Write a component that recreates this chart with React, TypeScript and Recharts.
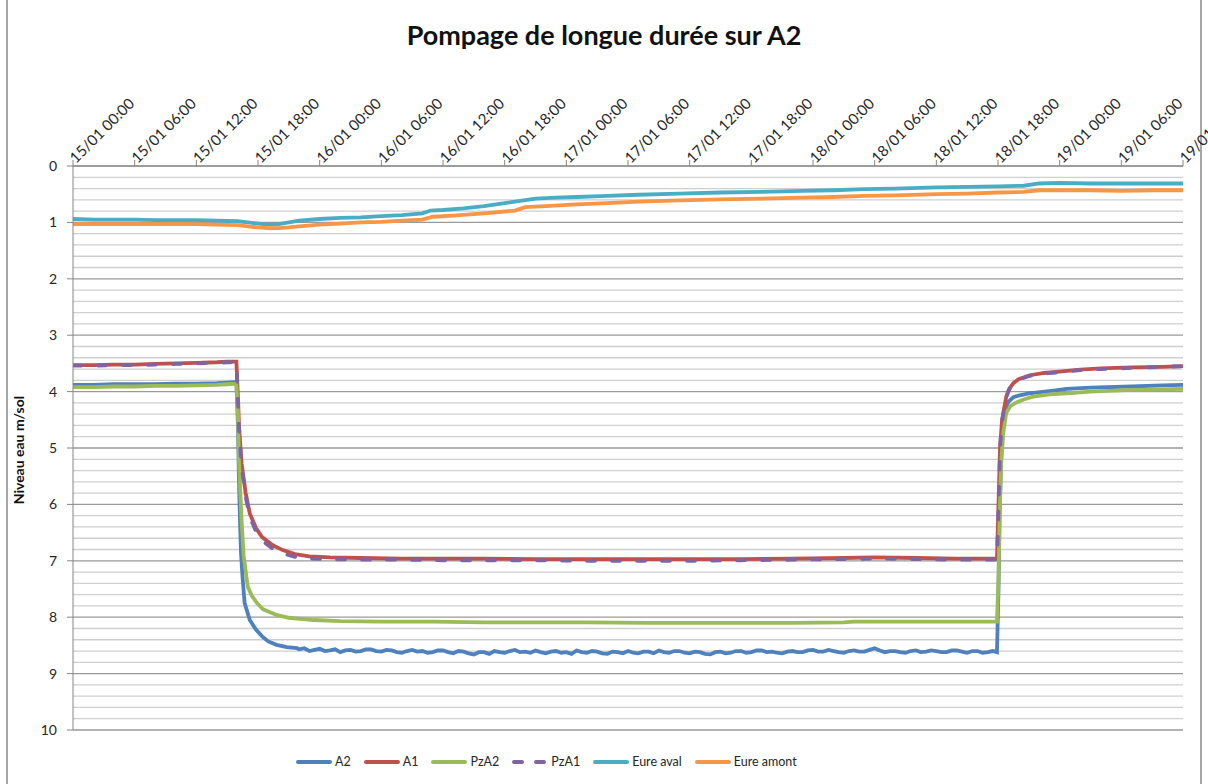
import React from "react";
import { LineChart, Line, XAxis, YAxis, CartesianGrid, ReferenceLine } from "recharts";

type Pt = [number, number];

// hours since 15/01 00:00
const X_TICKS = [0, 6, 12, 18, 24, 30, 36, 42, 48, 54, 60, 66, 72, 78, 84, 90, 96, 102, 108];
const X_LABELS = [
  "15/01 00:00", "15/01 06:00", "15/01 12:00", "15/01 18:00",
  "16/01 00:00", "16/01 06:00", "16/01 12:00", "16/01 18:00",
  "17/01 00:00", "17/01 06:00", "17/01 12:00", "17/01 18:00",
  "18/01 00:00", "18/01 06:00", "18/01 12:00", "18/01 18:00",
  "19/01 00:00", "19/01 06:00", "19/01 12:00",
];
const Y_TICKS = [0, 1, 2, 3, 4, 5, 6, 7, 8, 9, 10];
// minor gridlines every 0.2 m (integers are drawn by the major grid)
const Y_MINOR = Array.from({ length: 51 }, (_, i) => i / 5).filter((v, i) => i % 5 !== 0);

const A2: Pt[] = [
  [0, 3.88], [2, 3.88], [4, 3.87], [6, 3.87], [8, 3.87], [10, 3.86], [12, 3.86], [14, 3.85], [15, 3.84], [15.9, 3.83],
  [16.05, 4.6], [16.15, 5.6], [16.25, 6.3], [16.35, 6.87], [16.5, 7.3], [16.7, 7.75], [17.2, 8.05], [17.8, 8.22],
  [18.4, 8.34], [19, 8.43], [19.8, 8.49], [20.8, 8.53], [21.8, 8.55],
  [22, 8.57], [22.5, 8.55], [23, 8.6], [23.5, 8.58], [24, 8.56], [24.5, 8.6], [25, 8.59], [25.5, 8.57], [26, 8.62],
  [26.5, 8.59], [27, 8.58], [27.5, 8.61], [28, 8.6], [28.5, 8.57], [29, 8.57], [29.5, 8.6], [30, 8.61],
  [30.5, 8.58], [31, 8.59], [31.5, 8.62], [32, 8.63], [32.5, 8.6], [33, 8.58], [33.5, 8.61], [34, 8.6],
  [34.5, 8.63], [35, 8.62], [35.5, 8.59], [36, 8.59], [36.5, 8.62], [37, 8.64], [37.5, 8.6], [38, 8.61],
  [38.5, 8.64], [39, 8.66], [39.5, 8.62], [40, 8.62], [40.5, 8.65], [41, 8.6], [41.5, 8.62], [42, 8.63],
  [42.5, 8.6], [43, 8.58], [43.5, 8.62], [44, 8.61], [44.5, 8.63], [45, 8.59], [45.5, 8.62], [46, 8.64],
  [46.5, 8.61], [47, 8.6], [47.5, 8.63], [48, 8.62], [48.5, 8.65], [49, 8.59], [49.5, 8.62], [50, 8.63],
  [50.5, 8.6], [51, 8.61], [51.5, 8.64], [52, 8.65], [52.5, 8.61], [53, 8.62], [53.5, 8.64], [54, 8.6],
  [54.5, 8.63], [55, 8.64], [55.5, 8.61], [56, 8.61], [56.5, 8.64], [57, 8.59], [57.5, 8.62], [58, 8.63],
  [58.5, 8.6], [59, 8.6], [59.5, 8.63], [60, 8.64], [60.5, 8.61], [61, 8.62], [61.5, 8.65], [62, 8.66],
  [62.5, 8.62], [63, 8.61], [63.5, 8.64], [64, 8.63], [64.5, 8.6], [65, 8.6], [65.5, 8.63], [66, 8.62],
  [66.5, 8.59], [67, 8.59], [67.5, 8.62], [68, 8.61], [68.5, 8.63], [69, 8.64], [69.5, 8.61], [70, 8.6],
  [70.5, 8.62], [71, 8.62], [71.5, 8.59], [72, 8.58], [72.5, 8.61], [73, 8.61], [73.5, 8.58], [74, 8.6],
  [74.5, 8.62], [75, 8.63], [75.5, 8.6], [76, 8.59], [76.5, 8.61], [77, 8.61], [77.5, 8.58], [78, 8.55],
  [78.5, 8.59], [79, 8.62], [79.5, 8.6], [80, 8.6], [80.5, 8.62], [81, 8.63], [81.5, 8.6], [82, 8.59],
  [82.5, 8.62], [83, 8.61], [83.5, 8.59], [84, 8.6], [84.5, 8.62], [85, 8.62], [85.5, 8.59], [86, 8.59],
  [86.5, 8.61], [87, 8.63], [87.5, 8.6], [88, 8.6], [88.5, 8.63], [89, 8.62], [89.5, 8.6], [89.9, 8.62],
  [90.05, 7.5], [90.15, 6.2], [90.3, 5.2], [90.5, 4.6], [90.7, 4.35], [91, 4.18], [91.5, 4.1], [92, 4.07],
  [93, 4.03], [95, 3.99], [96.7, 3.95], [99, 3.93], [103, 3.91], [106, 3.89], [108, 3.88],
];

const A1: Pt[] = [
  [0, 3.53], [2, 3.53], [4, 3.52], [6, 3.52], [8, 3.51], [10, 3.5], [12, 3.49], [14, 3.48], [15, 3.47], [15.9, 3.47],
  [16.05, 4.1], [16.15, 4.6], [16.4, 5.27], [16.8, 5.8], [17.2, 6.16], [17.8, 6.42], [18.4, 6.58], [19.4, 6.72],
  [20.4, 6.81], [21.6, 6.88], [23, 6.92], [25, 6.94],
  [28, 6.95], [32, 6.96], [36, 6.96], [40, 6.96], [45, 6.97], [50, 6.97], [55, 6.97], [60, 6.97], [65, 6.97],
  [70, 6.96], [75, 6.95], [78, 6.94], [82, 6.95], [86, 6.96], [89.9, 6.96],
  [90.05, 6.0], [90.2, 4.98], [90.4, 4.5], [90.8, 4.09], [91.1, 3.95], [91.5, 3.85], [92, 3.78], [93.1, 3.71],
  [94.5, 3.67], [95.7, 3.65], [98, 3.61], [100, 3.59], [103, 3.57], [106, 3.56], [108, 3.55],
];

const PZA2: Pt[] = [
  [0, 3.92], [2, 3.92], [4, 3.91], [6, 3.91], [8, 3.9], [10, 3.9], [12, 3.89], [14, 3.88], [15, 3.87], [15.9, 3.86],
  [16.05, 4.4], [16.15, 5.2], [16.3, 5.87], [16.4, 6.28], [16.6, 6.9], [17, 7.46], [17.4, 7.62], [17.9, 7.75],
  [18.5, 7.86], [19.8, 7.96], [21, 8.01], [23.4, 8.05], [26, 8.07],
  [30, 8.08], [35, 8.08], [40, 8.09], [45, 8.09], [50, 8.09], [56, 8.1], [60, 8.1], [65, 8.1], [70, 8.1],
  [75, 8.09], [76, 8.08], [80, 8.08], [85, 8.08], [89.9, 8.08],
  [90.05, 7.3], [90.15, 6.3], [90.3, 5.3], [90.5, 4.75], [90.8, 4.38], [91.2, 4.26], [91.7, 4.2], [92.5, 4.14],
  [93.4, 4.09], [95, 4.05], [96.7, 4.03], [99, 4.0], [103, 3.97], [106, 3.96], [108, 3.95],
];

const PZA1: Pt[] = [
  [0, 3.54], [2, 3.54], [4, 3.53], [6, 3.53], [8, 3.52], [10, 3.51], [12, 3.5], [14, 3.49], [15, 3.48], [15.9, 3.48],
  [16.05, 4.15], [16.15, 4.65], [16.4, 5.32], [16.8, 5.86], [17.2, 6.22], [17.8, 6.48], [18.4, 6.64], [19.4, 6.78],
  [20.4, 6.87], [21.6, 6.93], [23, 6.96], [25, 6.97],
  [28, 6.98], [32, 6.98], [36, 6.99], [40, 6.99], [45, 6.99], [50, 7.0], [55, 7.0], [60, 7.0], [65, 6.99],
  [70, 6.98], [75, 6.97], [78, 6.96], [82, 6.97], [86, 6.98], [89.9, 6.98],
  [90.05, 6.05], [90.2, 5.0], [90.4, 4.52], [90.8, 4.1], [91.1, 3.96], [91.5, 3.86], [92, 3.79], [93.1, 3.72],
  [94.5, 3.68], [95.7, 3.66], [98, 3.62], [100, 3.6], [103, 3.58], [106, 3.56], [108, 3.55],
];

const EURE_AVAL: Pt[] = [
  [0, 0.94], [2, 0.95], [4, 0.95], [6, 0.95], [8, 0.96], [10, 0.96], [12, 0.96], [14, 0.97], [16, 0.98],
  [17, 1.0], [18, 1.02], [19, 1.04], [20, 1.03], [21, 1.0], [22, 0.97], [24, 0.94], [26, 0.92], [28, 0.91],
  [30, 0.89], [32, 0.87], [34, 0.84], [34.8, 0.79], [36, 0.78], [38, 0.75], [40, 0.71], [42, 0.66], [43, 0.63],
  [45, 0.58], [47, 0.56], [49, 0.55], [52, 0.53], [55, 0.51], [59, 0.49], [63, 0.47], [67, 0.46], [71, 0.44],
  [74, 0.43], [77, 0.41], [80, 0.4], [84, 0.38], [87, 0.37], [90, 0.36], [92.5, 0.35], [94, 0.31], [96, 0.3],
  [99, 0.31], [102, 0.31], [105, 0.31], [108, 0.31],
];

const EURE_AMONT: Pt[] = [
  [0, 1.03], [2, 1.03], [4, 1.03], [6, 1.03], [8, 1.03], [10, 1.03], [12, 1.03], [14, 1.04], [16, 1.05],
  [17, 1.07], [18, 1.09], [19, 1.1], [20, 1.1], [21, 1.09], [22, 1.07], [24, 1.04], [26, 1.02], [28, 1.0],
  [30, 0.99], [32, 0.97], [34, 0.95], [35, 0.9], [37, 0.88], [40, 0.84], [43, 0.79], [44, 0.73], [46, 0.71],
  [49, 0.68], [52, 0.66], [55, 0.63], [59, 0.61], [63, 0.59], [67, 0.58], [71, 0.56], [74, 0.55], [77, 0.53],
  [80, 0.52], [84, 0.5], [87, 0.49], [90, 0.47], [92.5, 0.46], [94, 0.43], [96, 0.43], [99, 0.43], [102, 0.44],
  [105, 0.43], [108, 0.43],
];

const SERIES = [
  { name: "A2", pts: A2, color: "#4F81BD", dash: undefined },
  { name: "A1", pts: A1, color: "#C0504D", dash: undefined },
  { name: "PzA2", pts: PZA2, color: "#9BBB59", dash: undefined },
  { name: "PzA1", pts: PZA1, color: "#8064A2", dash: "8 17" },
  { name: "Eure aval", pts: EURE_AVAL, color: "#4BACC6", dash: undefined },
  { name: "Eure amont", pts: EURE_AMONT, color: "#F79646", dash: undefined },
];

const FONT = "Lato, 'Open Sans', sans-serif";

const XTick = (props: any) => {
  const { x, y, payload } = props;
  const i = X_TICKS.indexOf(payload.value);
  const px = x + 3;
  const py = y + 6;
  return (
    <text x={px} y={py} transform={`rotate(-45 ${px} ${py})`} textAnchor="start" fontSize={15} fontFamily={FONT} fill="#262626">
      {X_LABELS[i]}
    </text>
  );
};

export default function App() {
  return (
    <div style={{ position: "absolute", left: 0, top: 0, width: 1208, height: 784, background: "#fff", overflow: "hidden", fontFamily: FONT }}>
      <div style={{ position: "absolute", left: 6, top: -4, width: 1196, height: 800, border: "2px solid #a6a6a6", boxSizing: "border-box" }} />
      <div style={{ position: "absolute", left: 0, width: 1208, top: 18, textAlign: "center", fontWeight: 700, fontSize: 27, color: "#111" }}>
        Pompage de longue durée sur A2
      </div>
      <div style={{ position: "absolute", left: 18, top: 450, transform: "translate(-50%, -50%) rotate(-90deg)", fontWeight: 700, fontSize: 14, color: "#111", whiteSpace: "nowrap" }}>
        Niveau eau m/sol
      </div>
      <LineChart width={1208} height={784} margin={{ top: 0, right: 25, bottom: 54, left: 0 }} style={{ position: "absolute", left: 0, top: 0 }}>
        <XAxis
          xAxisId="x"
          dataKey="t"
          type="number"
          orientation="top"
          domain={[0, 108]}
          ticks={X_TICKS}
          interval={0}
          height={166}
          tickSize={6}
          stroke="#868686"
          tick={<XTick />}
          allowDataOverflow
        />
        <YAxis
          yAxisId="main"
          type="number"
          domain={[0, 10]}
          reversed
          ticks={Y_TICKS}
          interval={0}
          width={73}
          tickSize={6}
          tickMargin={10}
          stroke="#868686"
          tick={{ fontSize: 14, fill: "#262626", fontFamily: FONT }}
        />
        {Y_MINOR.map((v) => (
          <ReferenceLine key={v} xAxisId="x" yAxisId="main" y={v} stroke="#cfcfcf" strokeWidth={1.3} />
        ))}
        <CartesianGrid xAxisId="x" yAxisId="main" vertical={false} stroke="#9a9a9a" strokeWidth={1.3} />
        {SERIES.map((s) => (
          <Line
            key={s.name}
            xAxisId="x"
            yAxisId="main"
            data={s.pts.map(([t, v]) => ({ t, v }))}
            dataKey="v"
            name={s.name}
            type="linear"
            stroke={s.color}
            strokeWidth={3.8}
            strokeDasharray={s.dash}
            strokeLinecap="round"
            dot={false}
            activeDot={false}
            isAnimationActive={false}
          />
        ))}
      </LineChart>
      <div style={{ position: "absolute", left: 296, top: 754, display: "flex", alignItems: "center", fontSize: 12.5, color: "#262626" }}>
        {SERIES.map((s) => (
          <div key={s.name} style={{ display: "flex", alignItems: "center", marginRight: 13 }}>
            <svg width={36} height={8} style={{ marginRight: 3 }}>
              <line x1={2} y1={4} x2={34} y2={4} stroke={s.color} strokeWidth={4} strokeLinecap="round" strokeDasharray={s.dash ? "8 14" : undefined} />
            </svg>
            <span>{s.name}</span>
          </div>
        ))}
      </div>
    </div>
  );
}
